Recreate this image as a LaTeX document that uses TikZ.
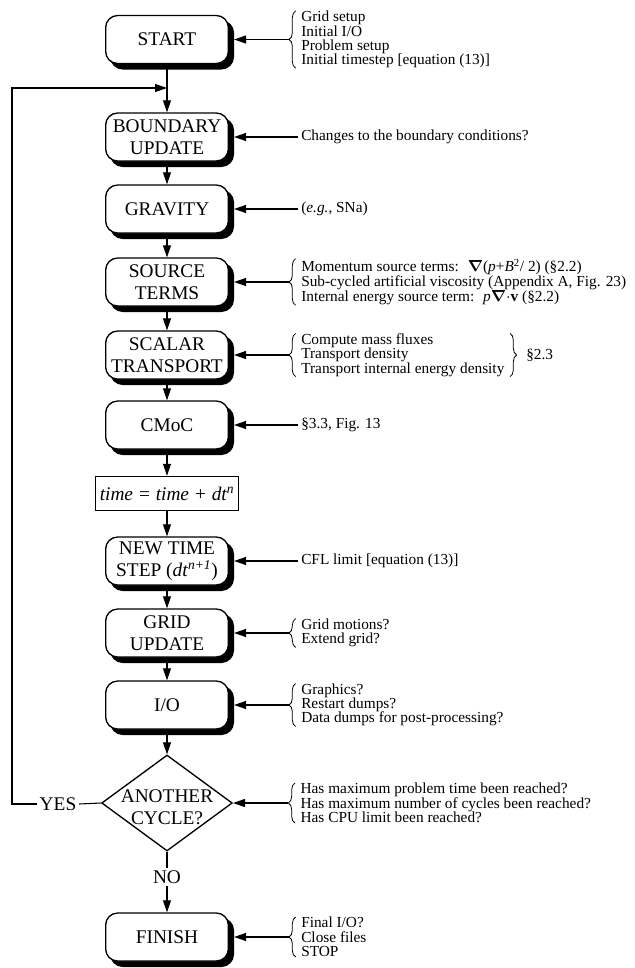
\documentclass[tikz,border=0pt]{standalone}
\usepackage{fontspec}
\setmainfont{Liberation Serif}
\usepackage{amsmath}
\usetikzlibrary{arrows.meta,shapes.geometric,positioning,decorations.pathreplacing}
\newcommand\stagefont{\fontsize{14.5}{16.5}\selectfont}
\newcommand\notefont{\fontsize{11.5}{10.7}\selectfont}

\begin{document}
\begin{tikzpicture}[x=0.75pt,y=-0.75pt,
  stage/.style={draw, line width=1pt, rounded corners=9pt, fill=white, minimum width=92pt, minimum height=36pt, inner sep=1pt, align=center, font=\stagefont, preaction={draw, line width=1pt, fill=black, transform canvas={xshift=3.8pt, yshift=-4pt}}},
  tally/.style={draw, line width=0.6pt, fill=white, minimum width=107pt, minimum height=26pt, font=\stagefont\itshape},
  decision/.style={draw, diamond, line width=1pt, minimum width=98pt, minimum height=72pt, inner sep=0pt},
  note/.style={align=left, inner sep=0pt, font=\notefont},
  flow/.style={-{Triangle[length=9pt,width=6pt]}, line width=0.8pt},
  curly/.style={decorate, decoration={brace, amplitude=5pt}, line width=0.6pt}]
\useasboundingbox[fill=white] (0,0) rectangle (635,968);

\node[stage] (start) at (167,39.5) {START};
\node[stage] (boundary) at (167,137) {BOUNDARY\\UPDATE};
\node[stage] (gravity) at (167,209) {GRAVITY};
\node[stage] (source) at (167,282) {SOURCE\\TERMS};
\node[stage] (scalar) at (167,355) {SCALAR\\TRANSPORT};
\node[stage] (cmoc) at (167,425) {CMoC};
\node[tally] (tally) at (167,493.5) {time = time + dt\textsuperscript{n}};
\node[stage] (newstep) at (167,561) {NEW TIME\\STEP (\textit{dt}\textsuperscript{\textit{n+1}})};
\node[stage] (grid) at (167,633) {GRID\\UPDATE};
\node[stage] (io) at (167,705) {I/O};
\node[decision, label={[font=\stagefont, align=center, yshift=-3pt]center:{ANOTHER\\CYCLE?}}] (cycle) at (167,803) {};
\node[stage] (finish) at (167,937) {FINISH};
\node[font=\stagefont, inner sep=2pt] (yes) at (58,804) {YES};
\node[font=\stagefont, inner sep=2pt] (no) at (167,877) {NO};

\node[note, right=54pt of start] (nstart) {Grid setup\\Initial I/O\\Problem setup\\Initial timestep [equation (13)]};
\node[note, right=54pt of boundary] (nboundary) {Changes to the boundary conditions?};
\node[note, right=54pt of gravity] (ngravity) {(\textit{e.g.}, SNa)};
\node[note, right=54pt of source] (nsource) {Momentum source terms: ~$\boldsymbol{\nabla}$(\textit{p}+\textit{B}\textsuperscript{2}/ 2) (\S2.2)\\Sub-cycled artificial viscosity (Appendix A, Fig. 23)\\Internal energy source term: ~\textit{p}$\boldsymbol{\nabla}\cdot$\textbf{v} (\S2.2)};
\node[note, right=54pt of scalar] (nscalar) {Compute mass fluxes\\Transport density\\Transport internal energy density};
\node[note, right=16pt of nscalar] (sec) {\S2.3};
\node[note, right=54pt of cmoc] (ncmoc) {\S3.3, Fig. 13};
\node[note, right=54pt of newstep] (nnewstep) {CFL limit [equation (13)]};
\node[note, right=54pt of grid] (ngrid) {Grid motions?\\Extend grid?};
\node[note, right=54pt of io] (nio) {Graphics?\\Restart dumps?\\Data dumps for post-processing?};
\node[note, right=50.5pt of cycle] (ncycle) {Has maximum problem time been reached?\\Has maximum number of cycles been reached?\\Has CPU limit been reached?};
\node[note, right=54pt of finish] (nfinish) {Final I/O?\\Close files\\STOP};

\foreach \a/\b in {start/boundary,boundary/gravity,gravity/source,source/scalar,scalar/cmoc,cmoc/tally,tally/newstep,newstep/grid,grid/io,io/cycle}
  \draw[flow] (\a) -- (\b);

\foreach \n in {start,source,scalar,grid,io,cycle,finish}{
  \draw[curly] ([xshift=-4pt]n\n.south west) -- ([xshift=-4pt]n\n.north west);
  \coordinate (t\n) at ([xshift=-9pt]n\n.west);
}
\draw[curly] ([xshift=4pt]nscalar.north east) -- ([xshift=4pt]nscalar.south east);

\foreach \a in {start,source,scalar,grid,io,finish}
  \draw[flow, shorten >=3.8pt] (t\a) -- (\a);
\draw[flow] (tcycle) -- (cycle);
\foreach \a in {boundary,gravity,cmoc,newstep}
  \draw[flow, shorten <=2pt, shorten >=3.8pt] (n\a.west) -- (\a);

\coordinate (corner) at (12,804);
\coordinate (join) at (167,88);
\draw[line width=0.8pt] (cycle.west) -- (yes.east);
\draw[flow] (yes.west) -- (corner) |- (join);
\draw[line width=0.8pt] (cycle.south) -- (no.north);
\draw[flow] (no) -- (finish);
\end{tikzpicture}
\end{document}
